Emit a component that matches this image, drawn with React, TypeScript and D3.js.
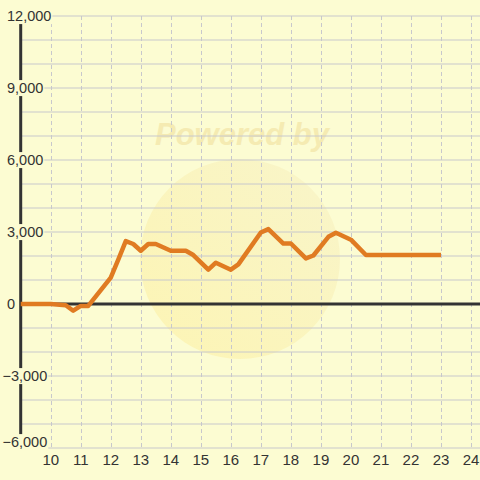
import React, { useEffect, useRef } from "react";
import * as d3 from "d3";

const hours = [9, 10, 10.5, 10.75, 11, 11.25, 12, 12.25, 12.5, 12.75, 13, 13.25, 13.5, 14, 14.5, 14.75, 15.25, 15.5, 16, 16.25, 17, 17.25, 17.75, 18, 18.5, 18.75, 19.25, 19.5, 20, 20.5, 23];
const values = [0, 0, -50, -280, -80, -80, 1100, 1850, 2620, 2500, 2220, 2500, 2500, 2220, 2220, 2040, 1430, 1720, 1430, 1650, 2980, 3120, 2520, 2520, 1900, 2020, 2800, 2970, 2680, 2040, 2040];
const xTicks = [10, 11, 12, 13, 14, 15, 16, 17, 18, 19, 20, 21, 22, 23, 24];
const yLabelTicks = [-6000, -3000, 0, 3000, 6000, 9000, 12000];
const yGridTicks = d3.range(-6000, 12001, 1000);

const BG = "#fcfcd2";

export default function App() {
  const ref = useRef<SVGSVGElement>(null);
  useEffect(() => {
    const svg = d3.select(ref.current);
    svg.selectAll("*").remove();
    const x = d3.scaleLinear().domain([9, 24.3]).range([20.7, 480]);
    const y = d3.scaleLinear().domain([-6000, 12000]).range([448, 16]);

    svg.append("rect").attr("width", 480).attr("height", 480).attr("fill", BG);

    // watermark
    const defs = svg.append("defs");
    const g = defs.append("linearGradient").attr("id", "wm").attr("x1", "0").attr("y1", "1").attr("x2", "1").attr("y2", "0");
    g.append("stop").attr("offset", "0").attr("stop-color", "#fdf0a0");
    g.append("stop").attr("offset", "1").attr("stop-color", "#f6f0c4");
    svg.append("circle").attr("cx", 240).attr("cy", 259).attr("r", 100).attr("fill", "url(#wm)").attr("opacity", 0.6);
    svg.append("text").attr("x", 242).attr("y", 145).attr("text-anchor", "middle")
      .attr("font-family", "Liberation Sans, Arial, sans-serif").attr("font-weight", "bold").attr("font-style", "italic")
      .attr("font-size", 31).attr("fill", "#f5ebb2").text("Powered by");

    // horizontal grid
    svg.append("g").selectAll("line").data(yGridTicks).join("line")
      .attr("x1", x(9)).attr("x2", 480).attr("y1", d => y(d)).attr("y2", d => y(d))
      .attr("stroke", "#c8c8cc").attr("stroke-width", 1);
    // vertical grid
    svg.append("g").selectAll("line").data(xTicks).join("line")
      .attr("x1", d => Math.round(x(d)) + 0.5).attr("x2", d => Math.round(x(d)) + 0.5)
      .attr("y1", y(12000)).attr("y2", y(-6000))
      .attr("stroke", "#c8c8cc").attr("stroke-width", 1).attr("stroke-dasharray", "4,3");

    // axes
    svg.append("line").attr("x1", x(9)).attr("x2", 480).attr("y1", y(0)).attr("y2", y(0))
      .attr("stroke", "#333").attr("stroke-width", 3);
    svg.append("line").attr("x1", x(9)).attr("x2", x(9)).attr("y1", y(12000)).attr("y2", y(-6000))
      .attr("stroke", "#333").attr("stroke-width", 3);

    // y labels with background
    const fmt = d3.format(",");
    const yl = svg.append("g");
    yLabelTicks.forEach(v => {
      const t = yl.append("text").attr("x", v < 0 ? 2.5 : 7).attr("y", y(v) - (v === -6000 ? 6 : 0)).attr("dy", "0.35em")
        .attr("font-family", "Liberation Sans, Arial, sans-serif").attr("font-size", 14.5).attr("fill", "#333")
        .text(fmt(v));
      const bb = (t.node() as SVGTextElement).getBBox();
      yl.insert("rect", () => t.node())
        .attr("x", bb.x - 1).attr("y", bb.y).attr("width", bb.width + 2).attr("height", bb.height)
        .attr("fill", BG);
    });

    // x labels
    svg.append("g").selectAll("text").data(xTicks).join("text")
      .attr("x", d => x(d)).attr("y", 460).attr("dy", "0.35em").attr("text-anchor", "middle")
      .attr("font-family", "Liberation Sans, Arial, sans-serif").attr("font-size", 15).attr("fill", "#333")
      .text(d => String(d));

    // line
    const line = d3.line<number>().x((_, i) => x(hours[i])).y(d => y(d));
    svg.append("path").attr("d", line(values) as string).attr("fill", "none")
      .attr("stroke", "#e07b22").attr("stroke-width", 4.5).attr("stroke-linejoin", "round").attr("stroke-linecap", "butt");
  }, []);
  return (
    <svg ref={ref} width={480} height={480} style={{ position: "absolute", left: 0, top: 0, display: "block" }} />
  );
}
